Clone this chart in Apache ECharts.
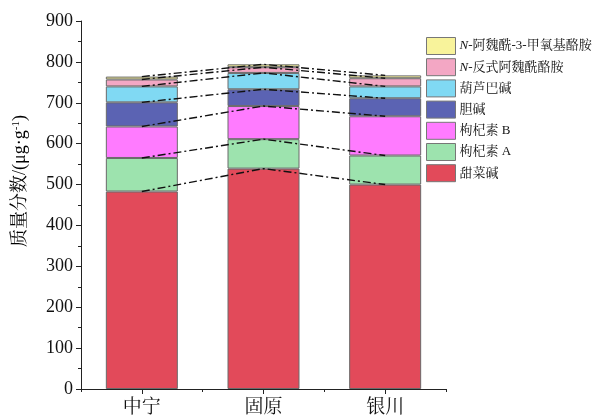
<!DOCTYPE html>
<html>
<head>
<meta charset="utf-8">
<script src="https://cdn.jsdelivr.net/npm/echarts@6/dist/echarts.min.js"></script>
<style>
  html, body { margin: 0; padding: 0; background: #fff; }
  #chart { width: 596px; height: 420px; }
</style>
</head>
<body>
<div id="chart"></div>
<script>
// Sampling regions
const regions = ['中宁', '固原', '银川'];

// Alkaloid contents (μg/g), stacked bottom to top
const seriesNames = ['甜菜碱', '枸杞素 A', '枸杞素 B', '胆碱', '葫芦巴碱', 'N-反式阿魏酰酪胺', 'N-阿魏酰-3-甲氧基酪胺'];
const betaine        = [483, 539, 500];
const lyciumideA     = [82, 72, 71];
const lyciumideB     = [77, 81, 96];
const choline        = [59, 41, 44];
const trigonelline   = [39, 40, 29];
const transFeruloyl  = [17, 14, 20];
const feruloylMethoxy = [7, 7, 7];

const seriesValues = [betaine, lyciumideA, lyciumideB, choline, trigonelline, transFeruloyl, feruloylMethoxy];
const colors = ['#E24A5A', '#9DE3AE', '#FF7BFF', '#5B63B3', '#80D9F3', '#F3A7C4', '#F8F39B'];

// Y axis ticks
const yMin = 0, yMax = 900, yStep = 100;

const serif = '"Liberation Serif", "Times New Roman", "Noto Serif CJK SC", "Noto Sans CJK SC", serif';

const chart = echarts.init(document.getElementById('chart'));

const barSeries = seriesNames.map((name, i) => ({
  name: name,
  type: 'bar',
  stack: 'bars',
  xAxisIndex: 0,
  barWidth: 72,
  data: seriesValues[i],
  itemStyle: { color: colors[i], borderColor: '#6a6a6a', borderWidth: 1 },
  z: 2
}));

// Dash-dot lines joining the cumulative top of each layer across regions
const lineSeries = seriesNames.map((name, i) => ({
  name: name + '-link',
  type: 'line',
  stack: 'links',
  xAxisIndex: 0,
  data: seriesValues[i],
  symbol: 'none',
  silent: true,
  lineStyle: { color: '#111', width: 1.4, type: [8, 3, 2, 3] },
  z: 5
}));

// Legend names with the italic N prefix
const legendRich = {
  it: { fontFamily: serif, fontStyle: 'italic', fontSize: 13, color: '#111', lineHeight: 17 },
  t: { fontFamily: serif, fontSize: 13, color: '#111', lineHeight: 17 }
};

chart.setOption({
  animation: false,
  grid: { left: 81, right: 150, top: 21, bottom: 31 },
  legend: {
    data: seriesNames.slice().reverse(),
    orient: 'vertical',
    left: 426,
    top: 33,
    padding: [4, 0, 4, 0],
    itemWidth: 29,
    itemHeight: 17,
    itemGap: 3.2,
    icon: 'rect',
    itemStyle: { borderColor: '#777', borderWidth: 1 },
    textStyle: { fontFamily: serif, fontSize: 13, color: '#111', lineHeight: 17, padding: [0, 0, 0, -1], rich: legendRich },
    formatter: function (n) {
      if (n.indexOf('N-') === 0) return '{it|N}{t|' + n.slice(1) + '}';
      return '{t|' + n + '}';
    }
  },
  xAxis: [{
    type: 'category',
    data: regions,
    axisLine: { lineStyle: { color: '#222', width: 1 } },
    axisTick: { show: true, alignWithLabel: true, length: 5, lineStyle: { color: '#222' } },
    axisLabel: { fontFamily: serif, fontSize: 19, color: '#111', margin: 10 }
  }, {
    type: 'category',
    data: regions,
    position: 'bottom',
    axisLine: { show: false },
    axisTick: { show: true, alignWithLabel: false, length: 3, lineStyle: { color: '#222' } },
    axisLabel: { show: false }
  }],
  yAxis: {
    type: 'value',
    min: yMin,
    max: yMax,
    interval: yStep,
    axisLine: { show: true, lineStyle: { color: '#222', width: 1 } },
    axisTick: { show: true, length: 5, lineStyle: { color: '#222' } },
    minorTick: { show: true, splitNumber: 2, length: 3, lineStyle: { color: '#222' } },
    splitLine: { show: false },
    axisLabel: { fontFamily: serif, fontSize: 18, color: '#111', margin: 8 }
  },
  graphic: [{
    type: 'text',
    x: 20,
    y: 181,
    rotation: Math.PI / 2,
    style: {
      text: '{a|质量分数/(μg·g}{s|-1}{a|)}',
      align: 'center',
      verticalAlign: 'middle',
      rich: {
        a: { fontFamily: serif, fontSize: 18, color: '#111' },
        s: { fontFamily: serif, fontSize: 11, color: '#111', verticalAlign: 'top', padding: [0, 0, 8, 0] }
      }
    }
  }],
  series: barSeries.concat(lineSeries)
});
</script>
</body>
</html>
